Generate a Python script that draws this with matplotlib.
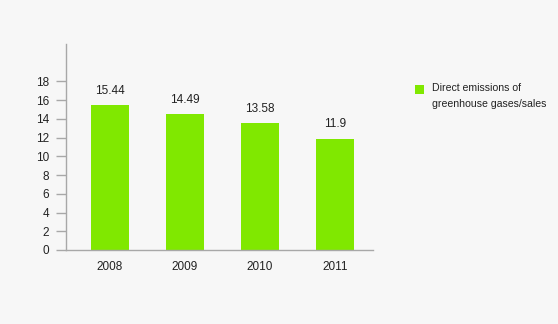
import matplotlib.pyplot as plt
from matplotlib.patches import Rectangle

years = ["2008", "2009", "2010", "2011"]
emissions = [15.44, 14.49, 13.58, 11.9]
yticks = [0, 2, 4, 6, 8, 10, 12, 14, 16, 18]
series_name = "Direct emissions of\ngreenhouse gases/sales"

bg = "#f7f7f7"
green = "#80e800"
axis_grey = "#a8a8a8"

plt.rcParams["font.family"] = ["Liberation Sans", "DejaVu Sans"]

fig = plt.figure(figsize=(5.58, 3.24), dpi=100, facecolor=bg)
ax = fig.add_axes([0.1183, 0.2284, 0.55, 0.6358], facecolor=bg)

x = range(len(years))
ax.bar(x, emissions, width=0.5, color=green, zorder=2)

for xi, v in zip(x, emissions):
    ax.annotate(f"{v:g}", (xi, v), xytext=(0, 6), textcoords="offset points",
                ha="center", va="bottom", fontsize=8.5, color="#222222")

ax.set_xlim(-0.587, 3.507)
ax.set_ylim(0, 22.0)
ax.set_xticks(list(x))
ax.set_xticklabels(years)
ax.set_yticks(yticks)

for s in ("top", "right"):
    ax.spines[s].set_visible(False)
for s in ("left", "bottom"):
    ax.spines[s].set_color(axis_grey)
    ax.spines[s].set_linewidth(1)

ax.tick_params(axis="y", length=7, width=1, color=axis_grey, pad=5,
               labelsize=8.5, labelcolor="#222222")
ax.tick_params(axis="x", length=0, pad=8, labelsize=8.5, labelcolor="#222222")

# legend: green square beside a two-line label
fig.add_artist(Rectangle((0.7437, 0.7099), 0.0162, 0.0278, transform=fig.transFigure,
                         facecolor=green, edgecolor="none"))
fig.text(0.7742, 0.744, series_name, ha="left", va="top", fontsize=7.6,
         linespacing=1.75, color="#222222")

fig.savefig("out.png", dpi=100, facecolor=bg)
